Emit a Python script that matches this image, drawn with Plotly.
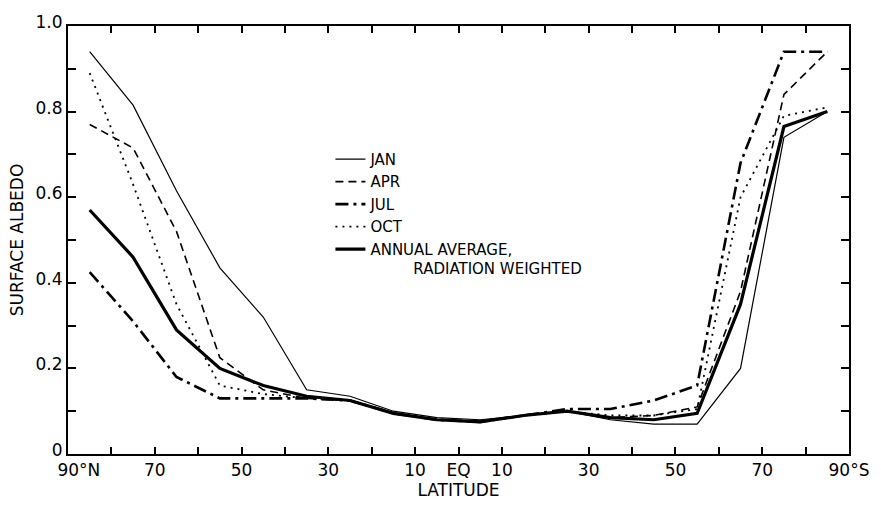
import plotly.graph_objects as go

# Latitude of each data point (positive = north)
latitudes = [85, 75, 65, 55, 45, 35, 25, 15, 5, -5, -15, -25, -35, -45, -55, -65, -75, -85]

jan = [0.94, 0.815, 0.615, 0.435, 0.32, 0.15, 0.135, 0.10, 0.085, 0.08, 0.09, 0.10, 0.08, 0.07, 0.07, 0.20, 0.74, 0.80]
apr = [0.77, 0.715, 0.52, 0.225, 0.15, 0.13, 0.125, 0.095, 0.08, 0.075, 0.09, 0.10, 0.085, 0.09, 0.11, 0.38, 0.84, 0.94]
jul = [0.425, 0.31, 0.18, 0.13, 0.13, 0.13, 0.125, 0.095, 0.08, 0.075, 0.09, 0.105, 0.105, 0.125, 0.16, 0.68, 0.94, 0.94]
oct_ = [0.89, 0.63, 0.35, 0.16, 0.14, 0.13, 0.125, 0.095, 0.08, 0.075, 0.09, 0.10, 0.09, 0.09, 0.105, 0.60, 0.79, 0.81]
annual = [0.57, 0.46, 0.29, 0.20, 0.16, 0.135, 0.125, 0.095, 0.08, 0.075, 0.09, 0.10, 0.085, 0.08, 0.095, 0.35, 0.765, 0.80]

x_tickvals = [90, 80, 70, 60, 50, 40, 30, 20, 10, 0, -10, -20, -30, -40, -50, -60, -70, -80, -90]
x_ticktext = ["\u00a0\u00a0\u00a0\u00a090°N", "", "70", "", "50", "", "30", "", "10", "EQ", "10", "", "30", "", "50", "", "70", "", "90°S"]
y_tickvals = [0, 0.2, 0.4, 0.6, 0.8, 1.0]
y_ticktext = ["0", "0.2", "0.4", "0.6", "0.8", "1.0"]

FONT = "DejaVu Sans"

fig = go.Figure()
series = [
    ("JAN", jan, dict(width=1.2, dash="solid")),
    ("APR", apr, dict(width=1.6, dash="8px,5px")),
    ("JUL", jul, dict(width=2.6, dash="13px,5px,3px,5px")),
    ("OCT", oct_, dict(width=1.8, dash="2px,5px")),
    ("ANNUAL AVERAGE,<br>" + "\u00a0" * 9 + "RADIATION WEIGHTED", annual, dict(width=3.2, dash="solid")),
]
for name, vals, ln in series:
    fig.add_trace(go.Scatter(x=latitudes, y=vals, mode="lines", name=name,
                             line=dict(color="black", **ln)))

fig.update_layout(
    width=881, height=506,
    margin=dict(l=68, r=27, t=16, b=47),
    paper_bgcolor="white", plot_bgcolor="white",
    font=dict(family=FONT, size=17, color="black"),
    showlegend=True,
    legend=dict(x=0.336, y=0.727, xanchor="left", yanchor="top",
                bgcolor="rgba(0,0,0,0)", font=dict(family=FONT, size=15, color="black"),
                valign="top", tracegroupgap=0),
)
fig.update_xaxes(
    range=[90, -90], tickmode="array", tickvals=x_tickvals, ticktext=x_ticktext,
    ticks="inside", ticklen=7, tickwidth=1.5, tickcolor="black",
    showline=True, linecolor="black", linewidth=2, mirror="ticks",
    showgrid=False, zeroline=False,
    title=dict(text="LATITUDE", standoff=2, font=dict(family=FONT, size=17)),
    tickfont=dict(family=FONT, size=17),
)
fig.update_yaxes(
    range=[0, 1.0], tickmode="array", tickvals=y_tickvals, ticktext=y_ticktext,
    ticks="inside", ticklen=8, tickwidth=1.5, tickcolor="black",
    minor=dict(dtick=0.1, ticks="inside", ticklen=8, tickwidth=1.5, tickcolor="black"),
    showline=True, linecolor="black", linewidth=2, mirror="ticks",
    showgrid=False, zeroline=False, ticklabelshift=-4,
    title=dict(text="SURFACE ALBEDO", standoff=8, font=dict(family=FONT, size=17)),
    tickfont=dict(family=FONT, size=17),
)

# Remove the default page margin so the 881x506 figure fills the window exactly.
fig.write_html(
    "out.html",
    config={"displayModeBar": False},
    post_script="document.body.style.margin='0';"
                "document.documentElement.style.overflow='hidden';"
                "document.body.style.overflow='hidden';",
)
